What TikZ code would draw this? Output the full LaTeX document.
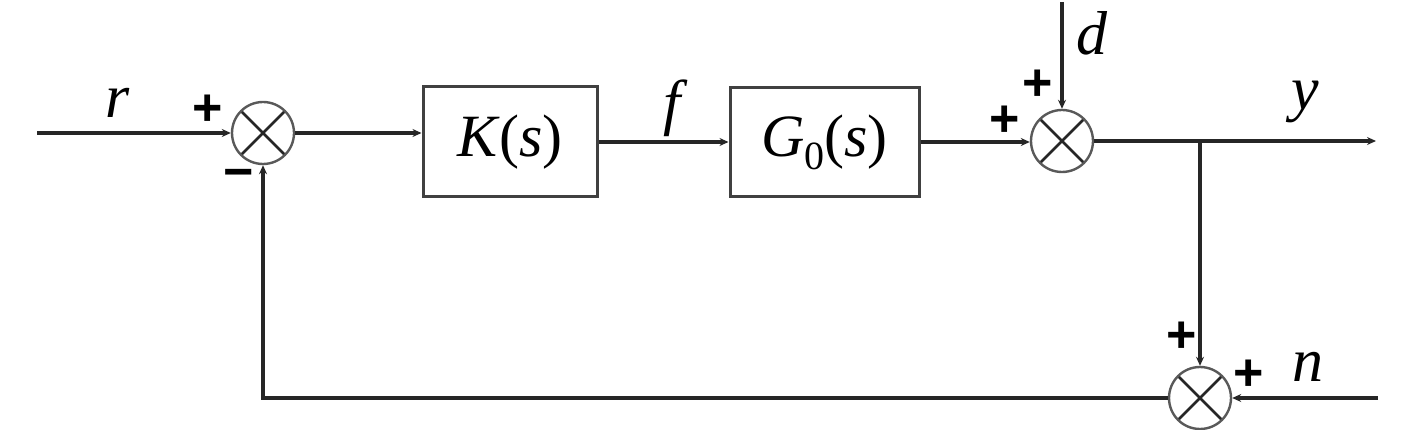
\documentclass[tikz,border=0pt]{standalone}
\usepackage{fontspec}
\setmainfont{Liberation Serif}
\newfontfamily\signfont{Liberation Sans}
\usetikzlibrary{arrows.meta}
\begin{document}
\begin{tikzpicture}[x=1pt,y=-1pt,
  sumnode/.style={circle,draw=black!65,line width=2.4pt,minimum size=62pt,inner sep=0pt,
    path picture={\draw[line width=2.6pt,black!85]
      (path picture bounding box.north west)--(path picture bounding box.south east)
      (path picture bounding box.north east)--(path picture bounding box.south west);}},
  blk/.style={rectangle,draw=black!75,line width=3pt,inner sep=0pt,
    font=\fontsize{60}{64}\selectfont},
  conn/.style={line width=3.2pt,draw=black!85,-{Stealth[length=9pt,width=8pt]}},
  lbl/.style={inner sep=0pt,font=\fontsize{62}{66}\selectfont\itshape},
  sgn/.style={inner sep=0pt,font=\fontsize{52}{56}\selectfont\signfont\bfseries}]
\useasboundingbox (0,0) rectangle (1417,430);
\node[sumnode] (s1) at (263,133) {};
\node[sumnode] (s2) at (1062,141) {};
\node[sumnode] (s3) at (1200,398) {};
\node[blk,minimum width=174pt,minimum height=110pt] (K) at (510,142) {\textit{K}(\textit{s})};
\node[blk,minimum width=189pt,minimum height=109pt] (G) at (824.5,142) {\textit{G}\raisebox{-0.22em}{\fontsize{40}{42}\selectfont 0}(\textit{s})};
\coordinate (in) at (37,133);
\coordinate (dtop) at (1062,2);
\coordinate (br) at (s3 |- s2);
\coordinate (yend) at (1376,141);
\coordinate (nin) at (1378,398);
\coordinate (fb) at (s1 |- s3);
\draw[conn] (in) -- (s1.west);
\draw[conn] (s1.east) -- (s1.east -| K.west);
\draw[conn] (K.east) -- (G.west);
\draw[conn] (G.east) -- (G.east -| s2.west);
\draw[conn] (dtop) -- (s2.north);
\draw[conn] (s2.east) -- (yend);
\draw[conn] (br) -- (s3.north);
\draw[conn] (nin) -- (s3.east);
\draw[conn] (s3.west) -- (fb) -- (s1.south);
\node[lbl] (lr) at (118,103) {r};
\node[lbl] (lf) at (672,108) {f};
\node[lbl] (ld) at (1092,33) {d};
\node[lbl] (ly) at (1305,102) {y};
\node[lbl] (ln) at (1308,367) {n};
\node[sgn] (p1) at (208,110) {+};
\node[sgn] (m1) at (239,179) {−};
\node[sgn] (p2) at (1005,121) {+};
\node[sgn] (p3) at (1038,85) {+};
\node[sgn] (p4) at (1182,337) {+};
\node[sgn] (p5) at (1249,375) {+};
\end{tikzpicture}
\end{document}
